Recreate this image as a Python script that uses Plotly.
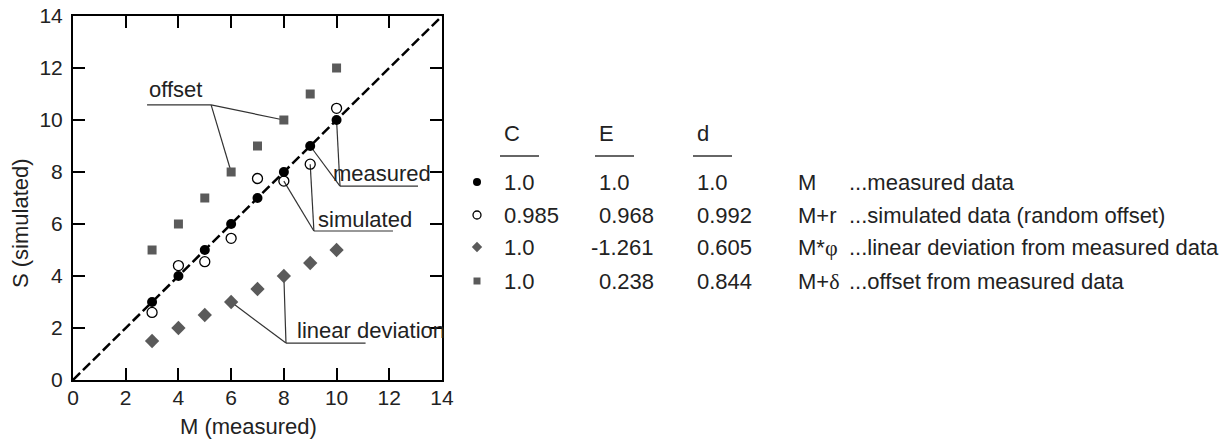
import plotly.graph_objects as go

# ---- data -------------------------------------------------------------
m_vals = [3, 4, 5, 6, 7, 8, 9, 10]
measured = [3, 4, 5, 6, 7, 8, 9, 10]
simulated = [2.6, 4.4, 4.55, 5.45, 7.75, 7.65, 8.3, 10.45]
linear_dev = [1.5, 2.0, 2.5, 3.0, 3.5, 4.0, 4.5, 5.0]
offset = [5, 6, 7, 8, 9, 10, 11, 12]

axis_ticks = [0, 2, 4, 6, 8, 10, 12, 14]

# goodness-of-fit table
stat_C = [1.0, 0.985, 1.0, 1.0]
stat_E = [1.0, 0.968, -1.261, 0.238]
stat_d = [1.0, 0.992, 0.605, 0.844]
serif = "<span style=\"font-family:'Liberation Serif'\">{}</span>"
formulas = ["M", "M+r", "M*" + serif.format("φ"), "M+" + serif.format("δ")]
descriptions = ["...measured data",
                "...simulated data (random offset)",
                "...linear deviation from measured data",
                "...offset from measured data"]

# ---- styling ----------------------------------------------------------
FONT = "Liberation Sans, Arial, sans-serif"
TXT = "#222222"
GREY = "#5a5a5a"
W, H = 1226, 439

styles = [
    dict(symbol="circle", color="black", line=dict(width=0)),
    dict(symbol="circle-open", color="black", line=dict(width=1.3)),
    dict(symbol="diamond", color=GREY, line=dict(width=0)),
    dict(symbol="square", color=GREY, line=dict(width=0)),
]
series = [measured, simulated, linear_dev, offset]
plot_sizes = [10, 10, 11, 9]
table_sizes = [8, 8, 8, 7]

fig = go.Figure()

# 1:1 line
fig.add_trace(go.Scatter(x=[0, 14], y=[0, 14], mode="lines",
                         line=dict(color="black", width=2.5, dash="10px,4px"),
                         hoverinfo="skip", showlegend=False))

for ys, st, sz in zip(series, styles, plot_sizes):
    fig.add_trace(go.Scatter(x=m_vals, y=ys, mode="markers",
                             marker=dict(size=sz, **st), showlegend=False))

# ---- leader lines for the in-plot labels ---------------------------------
def idx(m):
    return m_vals.index(m)

leaders = [
    # (hub point, data points joined to the hub, end of the horizontal bar)
    ((5.24, 10.58), [(8, offset[idx(8)]), (6, offset[idx(6)])], (2.81, 10.58)),
    ((10.13, 7.46), [(9, measured[idx(9)]), (10, measured[idx(10)])], (13.09, 7.46)),
    ((9.14, 5.73), [(8, simulated[idx(8)]), (9, simulated[idx(9)])], (12.14, 5.73)),
    ((8.08, 1.42), [(6, linear_dev[idx(6)]), (8, linear_dev[idx(8)])], (11.1, 1.42)),
]
shapes = []
for hub, pts, bar in leaders:
    for px, py in pts:
        shapes.append(dict(type="line", xref="x", yref="y", x0=px, y0=py,
                           x1=hub[0], y1=hub[1], layer="below",
                           line=dict(color="#333333", width=1.2)))
    shapes.append(dict(type="line", xref="x", yref="y", x0=hub[0], y0=hub[1],
                       x1=bar[0], y1=bar[1], layer="below",
                       line=dict(color="#333333", width=1.2)))

annotations = []
for text, x, y in [("offset", 2.8, 11.19), ("measured", 9.8, 7.96),
                   ("simulated", 9.23, 6.19), ("linear deviation", 8.44, 1.92)]:
    annotations.append(dict(text=text, x=x, y=y, xref="x", yref="y",
                            xanchor="left", yanchor="middle", showarrow=False,
                            font=dict(family=FONT, size=22, color=TXT)))

# axis titles
annotations.append(dict(text="M (measured)", x=248 / W, y=1 - 426 / H,
                        xref="paper", yref="paper", showarrow=False,
                        xanchor="center", yanchor="middle",
                        font=dict(family=FONT, size=22, color=TXT)))
annotations.append(dict(text="S (simulated)", x=20 / W, y=1 - 223 / H,
                        xref="paper", yref="paper", showarrow=False,
                        textangle=-90, xanchor="center", yanchor="middle",
                        font=dict(family=FONT, size=22, color=TXT)))

# ---- statistics table (pixel-space overlay axes) ------------------------
row_y = [182, 215, 247, 281]
col_marker = 477
col_C, col_E, col_d, col_F, col_D = 502, 597, 695, 796, 847
header_y = 133
underline_y = 156

def fmt(v):
    return "1.0" if v == 1.0 else f"{v:.3f}"

for st, sz, y in zip(styles, table_sizes, row_y):
    fig.add_trace(go.Scatter(x=[col_marker], y=[y], xaxis="x2", yaxis="y2",
                             mode="markers", marker=dict(size=sz, **st),
                             showlegend=False, hoverinfo="skip"))

tfont = dict(family=FONT, size=22, color=TXT)
for name, x in [("C", col_C), ("E", col_E), ("d", col_d)]:
    annotations.append(dict(text=name, x=x, y=header_y, xref="x2", yref="y2",
                            xanchor="left", yanchor="middle", showarrow=False,
                            font=tfont))
    shapes.append(dict(type="line", xref="x2", yref="y2", x0=x - 2,
                       x1=x + 37, y0=underline_y, y1=underline_y,
                       line=dict(color="#333333", width=1.3)))

for i, y in enumerate(row_y):
    cells = [(fmt(stat_C[i]), col_C), (fmt(stat_E[i]), col_E),
             (fmt(stat_d[i]), col_d), (formulas[i], col_F),
             (descriptions[i], col_D)]
    for text, x in cells:
        if text.startswith("-"):
            x -= 8
        annotations.append(dict(text=text, x=x, y=y, xref="x2", yref="y2",
                                xanchor="left", yanchor="middle",
                                showarrow=False, font=tfont))

axis_common = dict(range=[0, 14], tickvals=axis_ticks, ticks="inside",
                   ticklen=12, tickwidth=2, tickcolor="black",
                   showline=True, linecolor="black", linewidth=2,
                   mirror="ticks", showgrid=False, zeroline=False,
                   automargin=False,
                   tickfont=dict(family=FONT, size=21, color=TXT))

fig.update_layout(
    template="none",
    width=W, height=H,
    margin=dict(l=0, r=0, t=0, b=0, autoexpand=False),
    paper_bgcolor="white", plot_bgcolor="rgba(0,0,0,0)",
    xaxis=dict(domain=[73 / W, 442 / W], ticklabelstandoff=-2, **axis_common),
    yaxis=dict(domain=[(H - 380) / H, (H - 16) / H], ticklabelstandoff=4,
               **axis_common),
    xaxis2=dict(domain=[0, 1], range=[0, W], visible=False, anchor="y2",
                automargin=False),
    yaxis2=dict(domain=[0, 1], range=[H, 0], visible=False, anchor="x2",
                automargin=False),
    shapes=shapes,
    annotations=annotations,
    showlegend=False,
)

fig.write_html("out.html")
